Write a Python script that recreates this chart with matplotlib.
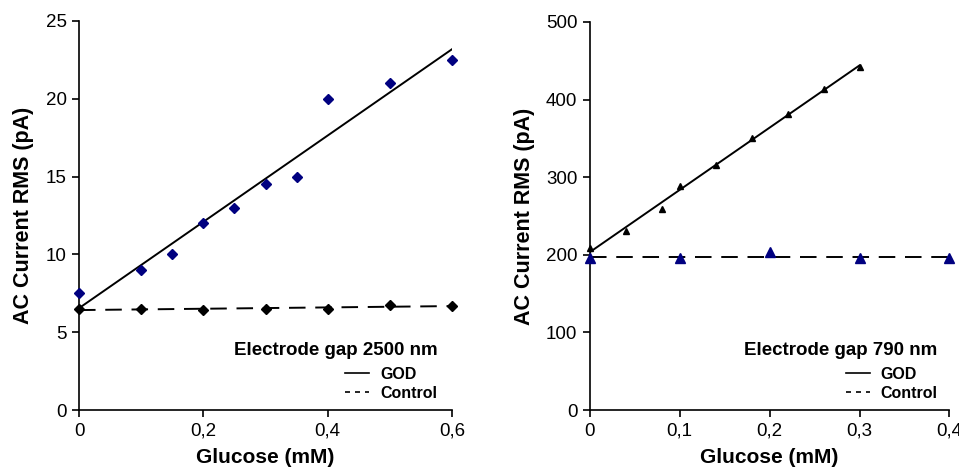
import numpy as np
import matplotlib
matplotlib.use("Agg")
import matplotlib.pyplot as plt
from matplotlib.lines import Line2D
from matplotlib.ticker import FuncFormatter

plt.rcParams['font.family'] = ['Liberation Sans', 'DejaVu Sans']

# left panel: electrode gap 2500 nm
god_x_a = [0, 0.1, 0.15, 0.2, 0.25, 0.3, 0.35, 0.4, 0.5, 0.6]
god_y_a = [7.5, 9.0, 10.0, 12.0, 13.0, 14.5, 15.0, 20.0, 21.0, 22.5]
ctl_x_a = [0, 0.1, 0.2, 0.3, 0.4, 0.5, 0.6]
ctl_y_a = [6.5, 6.5, 6.4, 6.5, 6.5, 6.75, 6.7]

# right panel: electrode gap 790 nm
god_x_b = [0, 0.04, 0.08, 0.1, 0.14, 0.18, 0.22, 0.26, 0.3]
god_y_b = [209, 231, 259, 288, 316, 350, 381, 413, 442]
ctl_x_b = [0, 0.1, 0.2, 0.3, 0.4]
ctl_y_b = [196, 196, 203, 196, 196]

navy = '#000080'
comma = FuncFormatter(lambda v, p: ('%g' % round(v, 3)).replace('.', ','))

fig = plt.figure(figsize=(9.59, 4.71), dpi=100)
ax1 = fig.add_axes([0.0824, 0.1295, 0.389, 0.826])
ax2 = fig.add_axes([0.615, 0.1295, 0.375, 0.824])


def panel(ax, gx, gy, cx, cy, god_mk, god_col, god_ms, ctl_mk, ctl_col, ctl_ms,
          xmax, ymax, xstep, ystep, title, tx, lx):
    # linear trend lines
    p = np.polyfit(gx, gy, 1)
    xs = np.array([min(gx), max(gx)])
    ax.plot(xs, np.polyval(p, xs), color='black', lw=1.4, zorder=2)
    q = np.polyfit(cx, cy, 1)
    xc = np.array([min(cx), max(cx)])
    ax.plot(xc, np.polyval(q, xc), color='black', lw=1.4, ls=(0, (8.5, 5)), zorder=2)
    ax.plot(gx, gy, ls='none', marker=god_mk, color=god_col, ms=god_ms, clip_on=False, zorder=3)
    ax.plot(cx, cy, ls='none', marker=ctl_mk, color=ctl_col, ms=ctl_ms, clip_on=False, zorder=3)
    ax.set_xlim(0, xmax)
    ax.set_ylim(0, ymax)
    ax.set_xticks(np.arange(0, xmax + 1e-9, xstep))
    ax.set_yticks(np.arange(0, ymax + 1e-9, ystep))
    ax.xaxis.set_major_formatter(comma)
    for s in ['top', 'right']:
        ax.spines[s].set_visible(False)
    for s in ['left', 'bottom']:
        ax.spines[s].set_linewidth(1.2)
    ax.tick_params(direction='out', length=5, width=1.2, labelsize=13.5, pad=4)
    ax.set_xlabel('Glucose (mM)', fontsize=15, fontweight='bold', labelpad=6)
    ax.set_ylabel('AC Current RMS (pA)', fontsize=15.5, fontweight='bold', labelpad=8)
    ax.text(tx, 0.154, title, transform=ax.transAxes, ha='right', va='center',
            fontsize=13.5, fontweight='bold')
    handles = [Line2D([], [], color='black', lw=1.2),
               Line2D([], [], color='black', lw=1.2, ls=(0, (3, 3)))]
    ax.legend(handles, ['GOD', 'Control'], loc='upper right', bbox_to_anchor=(lx, 0.132),
              frameon=False, handlelength=1.5, handletextpad=0.7, labelspacing=0.25,
              borderpad=0, prop={'size': 11.5, 'weight': 'bold'})


panel(ax1, god_x_a, god_y_a, ctl_x_a, ctl_y_a, 'D', navy, 5.5, 'D', 'black', 5.2,
      0.6, 25, 0.2, 5, 'Electrode gap 2500 nm', 0.96, 0.981)
panel(ax2, god_x_b, god_y_b, ctl_x_b, ctl_y_b, '^', 'black', 5, '^', navy, 6.5,
      0.4, 500, 0.1, 100, 'Electrode gap 790 nm', 0.965, 0.99)

fig.savefig('out.png', dpi=100)
